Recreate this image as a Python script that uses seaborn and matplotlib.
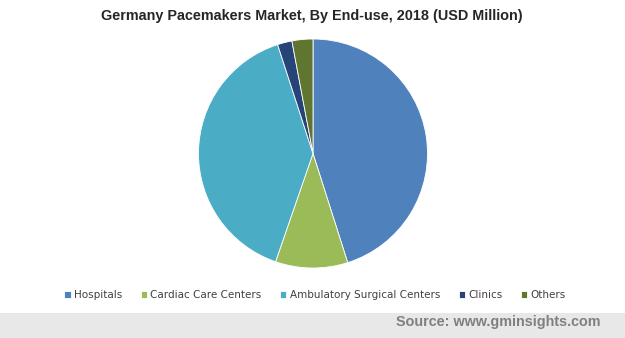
import matplotlib
matplotlib.use("Agg")
import matplotlib.pyplot as plt
import seaborn as sns
from matplotlib.patches import Rectangle

sns.set_theme(style="white")
plt.rcParams['font.family'] = ['DejaVu Sans']

categories = ["Hospitals", "Cardiac Care Centers", "Ambulatory Surgical Centers", "Clinics", "Others"]
values = [45.1, 10.2, 39.7, 2.05, 2.95]
colors = ["#4f81bd", "#9bbb59", "#4bacc6", "#264478", "#5f7530"]

W, H = 625, 338
fig = plt.figure(figsize=(W / 100, H / 100), dpi=100)
fig.patch.set_facecolor("white")

# footer band
fig.patches.append(Rectangle((0, 0), 1, 25 / H, transform=fig.transFigure,
                             facecolor="#e8e8e8", edgecolor="none", zorder=0))
fig.text(600 / W, 1 - 322 / H, "Source: www.gminsights.com", ha="right", va="center",
         fontsize=10.35, fontweight="bold", color="#808080", family="Liberation Sans")

fig.text(312 / W, 1 - 16 / H, "Germany Pacemakers Market, By End-use, 2018 (USD Million)",
         ha="center", va="center", fontsize=10.4, fontweight="bold", color="#262626",
         family="Liberation Sans")

cx, cy, r = 313, 153.5, 114.5
ax = fig.add_axes([(cx - r) / W, 1 - (cy + r) / H, 2 * r / W, 2 * r / H])
wedges, _ = ax.pie(values, colors=colors, startangle=90, counterclock=False,
                   wedgeprops=dict(edgecolor="white", linewidth=0.6))
ax.set_xlim(-1, 1)
ax.set_ylim(-1, 1)
ax.set_aspect("equal")
ax.axis("off")

fig.legend(wedges, categories, loc="center", bbox_to_anchor=(315 / W, 1 - 295 / H),
           ncol=5, frameon=False, fontsize=7.5, handlelength=0.6, handleheight=0.6,
           handletextpad=0.3, columnspacing=1.8, labelcolor="#404040")

fig.savefig("out.png", dpi=100)
